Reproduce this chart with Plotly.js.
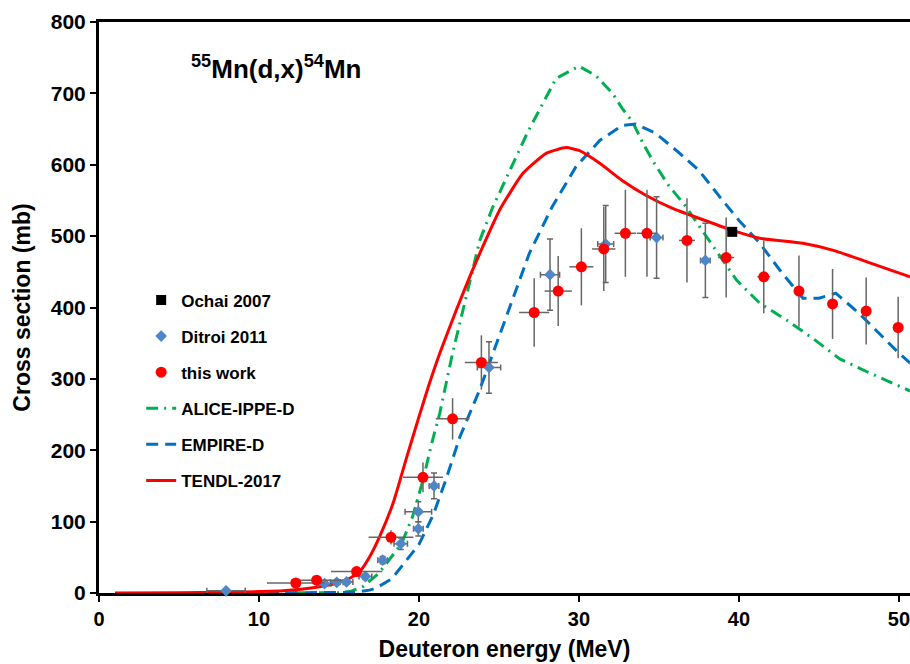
<!DOCTYPE html>
<html>
<head>
<meta charset="utf-8">
<script src="https://cdn.plot.ly/plotly-3.0.1.min.js"></script>
<style>
  html, body { margin: 0; padding: 0; background: #fff; }
  #chart { width: 910px; height: 664px; }
</style>
</head>
<body>
<div id="chart"></div>
<script>
// Ochai 2007
const ochaiX = [39.58];
const ochaiY = [506];

// Ditroi 2011
const ditX    = [7.94, 14.1, 14.86, 15.47, 16.65, 17.73, 18.86, 19.96, 19.96, 20.94, 24.375, 28.19, 31.67, 34.85, 37.9];
const ditY    = [3, 13, 15, 15.5, 23, 46, 69, 90, 114, 150, 316, 446, 489, 498, 466];
const ditYerr = [2, 3, 3, 3, 4, 5, 8, 10, 14, 18, 36, 50, 54, 57, 52];
const ditXerr = [1.2, 0.4, 0.4, 0.4, 0.4, 0.3, 0.42, 0.3, 0.83, 0.3, 0.73, 0.6, 0.5, 0.4, 0.3];

// this work
const thisX    = [12.3, 13.6, 16.1, 18.25, 20.25, 22.1, 23.9, 27.2, 28.7, 30.15, 31.55, 32.9, 34.25, 36.75, 39.2, 41.55, 43.75, 45.85, 47.95, 49.95];
const thisY    = [14, 18, 30, 78, 162, 244, 323, 393, 423, 457, 482, 504, 504, 494, 470, 443, 423, 405, 395, 372];
const thisYerr = [3, 3, 5, 10, 21, 29, 38, 48, 49, 54, 59, 61, 61, 59, 56, 51, 50, 49, 47, 43];
const thisXerr = [1.8, 1.6, 1.6, 1.4, 1.25, 1.05, 1.03, 0.94, 0.85, 0.75, 0.73, 0.67, 0.63, 0.5, 0.5, 0.4, 0.3, 0.3, 0.3, 0.3];

// ALICE-IPPE-D
const aliceX = [10.5, 14, 15, 15.7, 16.5, 17.5, 17.96, 18.6, 19.0, 19.6, 20.25, 20.8, 21.3, 22.1, 22.95, 23.8, 24.6, 25.25, 26.8, 28.57, 30.0, 31.05, 32.1, 32.7, 33.35, 34.0, 34.6, 35.6, 36.7, 37.7, 38.55, 39.86, 41.3, 43.0, 44.6, 46.3, 48.0, 50.0, 50.7];
const aliceY = [0, 0, 0.5, 2, 9, 28, 42, 60, 74, 107, 158, 210, 252, 336, 415, 494, 540, 572, 646, 721, 738, 725, 700, 679, 660, 630, 606, 571, 541, 508, 480, 438, 406, 382, 357, 328, 310, 290, 283];

// EMPIRE-D
const empireX = [10.5, 14, 16, 16.9, 17.3, 18.3, 19.0, 20.0, 20.9, 21.7, 22.56, 23.2, 23.8, 24.4, 25.8, 26.9, 28.3, 29.8, 31.3, 32.7, 33.55, 34.8, 36.3, 37.5, 38.8, 40.0, 41.3, 42.7, 44.0, 45.0, 46.05, 47.5, 50.0, 50.7];
const empireY = [0, 0, 1, 4, 6.6, 20, 40, 68, 110, 160, 219, 252, 285, 322, 408, 476, 540, 597, 634, 655, 657, 644, 616, 592, 555, 522, 490, 448, 413, 413, 420, 392, 336, 322];

// TENDL-2017
const tendlX = [1, 5, 8, 10, 11.5, 13.6, 14.86, 15.7, 16.3, 16.9, 17.56, 18.4, 19.23, 19.96, 20.6, 21.3, 22.36, 23.3, 24.4, 25.05, 26.5, 27.95, 29.2, 30.0, 31.3, 32.7, 34.2, 35.85, 37.5, 39.6, 41.3, 44.0, 45.9, 48.0, 50.7];
const tendlY = [0, 0.3, 1, 2, 3, 8, 14, 21, 30, 50, 80, 127, 190, 244, 290, 336, 398, 450, 506, 537, 588, 616, 624, 620, 602, 578, 557, 539, 525, 508, 497, 490, 480, 464, 443];

const gray = '#666666';
const traces = [
  { x: aliceX, y: aliceY, name: 'ALICE-IPPE-D', mode: 'lines', type: 'scatter',
    line: { color: '#00B050', width: 3, dash: '12px,6px,2px,6px' }, legendrank: 4, legendgroup: 'g4' },
  { x: empireX, y: empireY, name: 'EMPIRE-D', mode: 'lines', type: 'scatter',
    line: { color: '#0070C0', width: 3, dash: '12px,7px' }, legendrank: 5, legendgroup: 'g5' },
  { x: tendlX, y: tendlY, name: 'TENDL-2017', mode: 'lines', type: 'scatter',
    line: { color: '#FF0000', width: 3, shape: 'spline', smoothing: 0.5 }, legendrank: 6, legendgroup: 'g6' },
  { x: ditX, y: ditY, name: 'Ditroi 2011', mode: 'markers', type: 'scatter', cliponaxis: false,
    marker: { symbol: 'diamond', size: 9, color: '#4F86C6' },
    error_y: { type: 'data', array: ditYerr, color: gray, thickness: 1.5, width: 3 },
    error_x: { type: 'data', array: ditXerr, color: gray, thickness: 1.5, width: 3 },
    legendrank: 2, legendgroup: 'g2' },
  { x: thisX, y: thisY, name: 'this work', mode: 'markers', type: 'scatter', cliponaxis: false,
    marker: { symbol: 'circle', size: 11, color: '#FF0000' },
    error_y: { type: 'data', array: thisYerr, color: gray, thickness: 1.5, width: 0 },
    error_x: { type: 'data', array: thisXerr, color: gray, thickness: 1.5, width: 0 },
    legendrank: 3, legendgroup: 'g3' },
  { x: ochaiX, y: ochaiY, name: 'Ochai 2007', mode: 'markers', type: 'scatter', cliponaxis: false,
    marker: { symbol: 'square', size: 10, color: '#000000' }, legendrank: 1, legendgroup: 'g1' }
];

const fontFam = 'Liberation Sans, Arial, sans-serif';
const layout = {
  width: 910, height: 664,
  margin: { l: 99, r: 0, t: 22, b: 71 },
  paper_bgcolor: '#fff', plot_bgcolor: '#fff',
  font: { family: fontFam, color: '#000' },
  showlegend: true,
  legend: {
    x: 0.052, y: 0.544, xanchor: 'left', yanchor: 'top',
    traceorder: 'grouped', tracegroupgap: 11,
    font: { family: fontFam, size: 17, color: '#000', weight: 'bold' },
    bgcolor: 'rgba(0,0,0,0)', itemwidth: 30
  },
  xaxis: {
    range: [0, 50.69], tickvals: [0, 10, 20, 30, 40, 50], showgrid: false, zeroline: false,
    showline: true, linecolor: '#000', linewidth: 3, mirror: true,
    ticks: 'outside', ticklen: 6, tickwidth: 2, tickcolor: '#000',
    ticklabeloverflow: 'allow',
    tickfont: { family: fontFam, size: 20, color: '#000', weight: 'bold' },
    layer: 'below traces',
    title: { text: 'Deuteron energy (MeV)', standoff: 12, font: { family: fontFam, size: 23, color: '#000', weight: 'bold' } }
  },
  yaxis: {
    range: [0, 800], tickvals: [0, 100, 200, 300, 400, 500, 600, 700, 800], showgrid: false, zeroline: false,
    showline: true, linecolor: '#000', linewidth: 3,
    ticks: 'outside', ticklen: 6, tickwidth: 2, tickcolor: '#000',
    tickfont: { family: fontFam, size: 21, color: '#000', weight: 'bold' },
    layer: 'below traces',
    title: { text: 'Cross section (mb)', standoff: 14, font: { family: fontFam, size: 23, color: '#000', weight: 'bold' } }
  },
  annotations: [{
    xref: 'paper', yref: 'paper', x: 0.111, y: 0.921, xanchor: 'left', yanchor: 'middle',
    text: '<sup>55</sup>Mn(d,x)<sup>54</sup>Mn', showarrow: false,
    font: { family: fontFam, size: 26, color: '#000', weight: 'bold' }
  }]
};

Plotly.newPlot('chart', traces, layout, { displayModeBar: false, staticPlot: true });
</script>
</body>
</html>
